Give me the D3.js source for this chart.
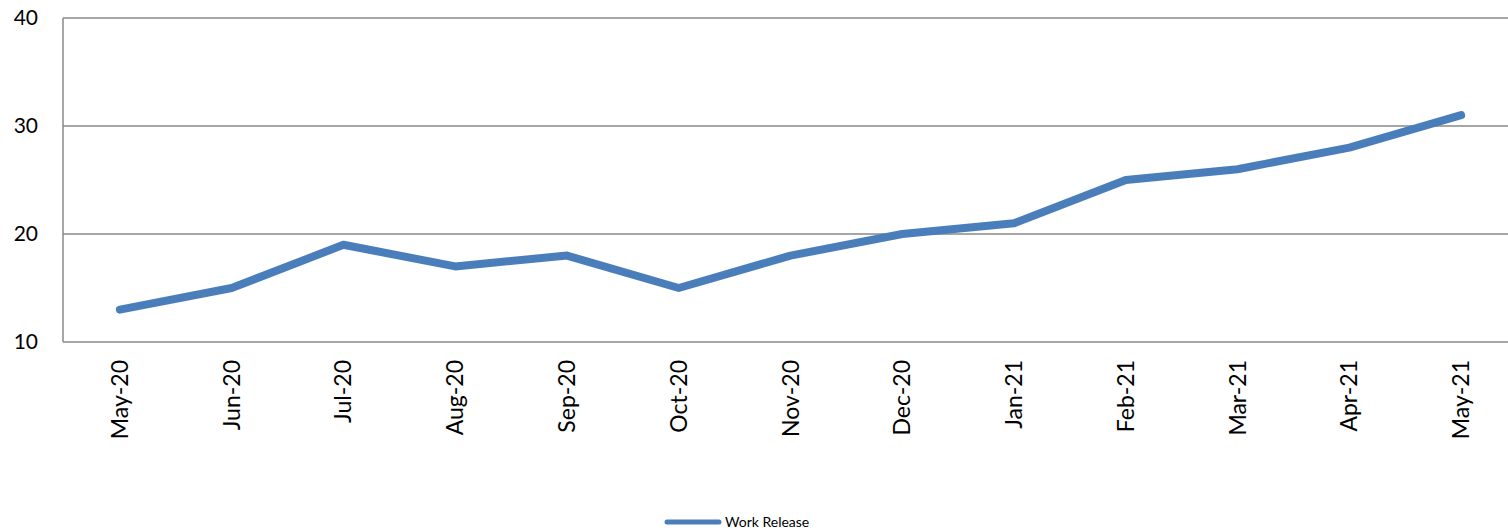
<!DOCTYPE html>
<meta charset="utf-8">
<head>
<style>
  body { margin: 0; background: #fff; }
  text { font-family: Lato, "Open Sans", sans-serif; fill: #000; }
</style>
<script src="https://d3js.org/d3.v7.min.js"></script>
</head>
<body>
<script>
var months = ["May-20","Jun-20","Jul-20","Aug-20","Sep-20","Oct-20","Nov-20","Dec-20","Jan-21","Feb-21","Mar-21","Apr-21","May-21"];
var workRelease = [13,15,19,17,18,15,18,20,21,25,26,28,31];
var yTicks = [10,20,30,40];
var seriesName = "Work Release";

var width = 1508, height = 532;
var margin = {top: 18, right: 0, bottom: 190, left: 63};

var svg = d3.select("body").append("svg")
    .attr("width", width)
    .attr("height", height);

// plot area runs a little past the right edge of the picture
var x = d3.scalePoint()
    .domain(months)
    .range([margin.left + 1, width + 9])
    .padding(0.5);

var y = d3.scaleLinear()
    .domain([10, 40])
    .range([height - margin.bottom, margin.top]);

// gridlines
svg.append("g")
    .selectAll("line")
    .data(yTicks)
  .enter().append("line")
    .attr("x1", margin.left)
    .attr("x2", width - margin.right)
    .attr("y1", function(d) { return y(d); })
    .attr("y2", function(d) { return y(d); })
    .attr("stroke", "#888")
    .attr("stroke-width", 1.5);

// left axis line
svg.append("line")
    .attr("x1", margin.left).attr("x2", margin.left)
    .attr("y1", y(40)).attr("y2", y(10))
    .attr("stroke", "#888")
    .attr("stroke-width", 1.5);

// y labels
svg.append("g")
    .selectAll("text")
    .data(yTicks)
  .enter().append("text")
    .attr("x", 38)
    .attr("y", function(d) { return y(d); })
    .attr("dy", "0.35em")
    .attr("text-anchor", "end")
    .style("font-size", "21px")
    .text(function(d) { return d; });

// x labels rotated
svg.append("g")
    .selectAll("text")
    .data(months)
  .enter().append("text")
    .attr("transform", function(d) { return "translate(" + x(d) + "," + (y(10) + 18) + ") rotate(-90)"; })
    .attr("dy", "0.35em")
    .attr("text-anchor", "end")
    .style("font-size", "23px")
    .text(function(d) { return d; });

// line
var line = d3.line()
    .x(function(d, i) { return x(months[i]); })
    .y(function(d) { return y(d); });

svg.append("path")
    .datum(workRelease)
    .attr("d", line)
    .attr("fill", "none")
    .attr("stroke", "#4a7ebb")
    .attr("stroke-width", 8)
    .attr("stroke-linecap", "round")
    .attr("stroke-linejoin", "round");

// legend
var lg = svg.append("g").attr("transform", "translate(667,522)");
lg.append("line")
    .attr("x1", 0).attr("x2", 52)
    .attr("y1", 0).attr("y2", 0)
    .attr("stroke", "#4a7ebb")
    .attr("stroke-width", 5)
    .attr("stroke-linecap", "round");
lg.append("text")
    .attr("x", 58)
    .attr("y", 0)
    .attr("dy", "0.35em")
    .style("font-size", "14px")
    .text(seriesName);
</script>
</body>
